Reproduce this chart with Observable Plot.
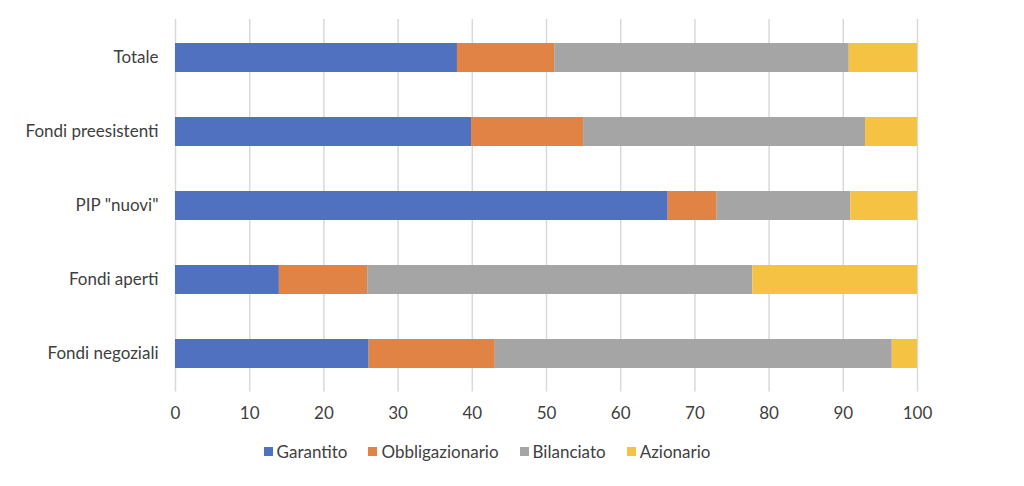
<!DOCTYPE html>
<html>
<head>
<meta charset="utf-8">
<script src="https://cdn.jsdelivr.net/npm/d3@7"></script>
<script src="https://cdn.jsdelivr.net/npm/@observablehq/plot@0.6"></script>
<style>
  html, body { margin: 0; padding: 0; background: #fff; }
  body { width: 1024px; height: 486px; overflow: hidden; font-family: Lato, "Open Sans", sans-serif; color: #404040; }
  #legend { display: flex; justify-content: center; align-items: center; margin-top: 11px; font-size: 17px; padding-right: 50px; }
  .item { display: flex; align-items: center; margin-right: 21px; }
  .item:last-child { margin-right: 0; }
  .sw { width: 9px; height: 9px; margin-right: 4px; }
</style>
</head>
<body>
<div id="chart"></div>
<div id="legend"></div>
<script>
const categories = ["Totale", "Fondi preesistenti", "PIP \"nuovi\"", "Fondi aperti", "Fondi negoziali"];
const seriesNames = ["Garantito", "Obbligazionario", "Bilanciato", "Azionario"];
const colors = ["#5071bf", "#e08344", "#a5a5a5", "#f5c243"];
const garantito       = [38.0, 39.9, 66.4, 14.0, 26.1];
const obbligazionario = [13.1, 15.1, 6.6, 11.9, 17.0];
const bilanciato      = [39.7, 38.0, 18.0, 51.9, 53.5];
const azionario       = [9.2, 7.0, 9.0, 22.2, 3.4];
const xTicks = [0, 10, 20, 30, 40, 50, 60, 70, 80, 90, 100];

const seriesValues = [garantito, obbligazionario, bilanciato, azionario];
const data = [];
categories.forEach((c, i) => {
  seriesNames.forEach((s, j) => {
    data.push({category: c, series: s, value: seriesValues[j][i]});
  });
});

const plot = Plot.plot({
  width: 1024,
  height: 430,
  marginTop: 19,
  marginBottom: 38.5,
  marginLeft: 175,
  marginRight: 107,
  style: {fontFamily: "Lato, 'Open Sans', sans-serif", fontSize: "17px", color: "#404040", background: "#fff"},
  x: {domain: [0, 100], ticks: xTicks, label: null},
  y: {domain: categories, label: null, paddingInner: 0.61, paddingOuter: 0.305},
  color: {domain: seriesNames, range: colors},
  marks: [
    Plot.gridX(xTicks, {stroke: "#d9d9d9", strokeOpacity: 1, strokeWidth: 1.5}),
    Plot.barX(data, Plot.stackX({x: "value", y: "category", fill: "series", order: seriesNames})),
    Plot.axisX({ticks: xTicks, tickSize: 0, tickPadding: 15, fontSize: 17, fill: "#404040"}),
    Plot.axisY({tickSize: 0, tickPadding: 17, fontSize: 17, fill: "#404040"})
  ]
});
document.getElementById("chart").appendChild(plot);

const legend = document.getElementById("legend");
seriesNames.forEach((s, j) => {
  const it = document.createElement("div");
  it.className = "item";
  const sw = document.createElement("span");
  sw.className = "sw";
  sw.style.background = colors[j];
  const t = document.createElement("span");
  t.textContent = s;
  it.appendChild(sw);
  it.appendChild(t);
  legend.appendChild(it);
});
</script>
</body>
</html>
